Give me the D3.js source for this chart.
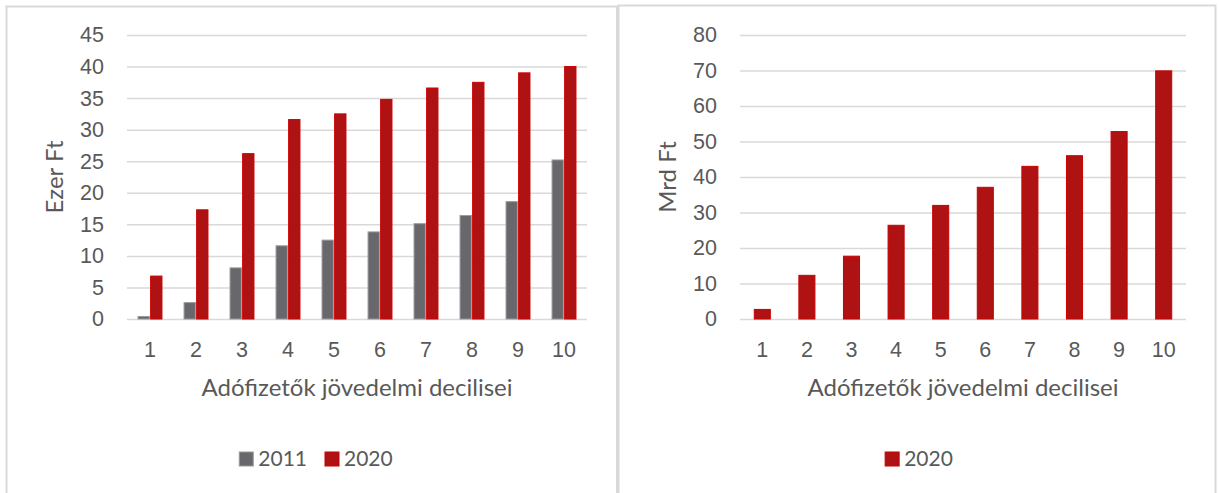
<!DOCTYPE html>
<html>
<head>
<meta charset="utf-8">
<script src="https://cdn.jsdelivr.net/npm/d3@7"></script>
<style>
  body { margin: 0; background: #fff; }
  svg { display: block; font-family: Lato, "Open Sans", sans-serif; }
</style>
</head>
<body>
<div id="chart"></div>
<script>
// decilis kategóriák
var deciles = ["1", "2", "3", "4", "5", "6", "7", "8", "9", "10"];

// bal ábra: Ezer Ft
var ezerFt2011 = [0.4, 2.6, 8.1, 11.6, 12.5, 13.8, 15.1, 16.4, 18.6, 25.2];
var ezerFt2020 = [6.8, 17.3, 26.2, 31.6, 32.5, 34.8, 36.6, 37.5, 39.0, 40.0];
var leftTicks = [0, 5, 10, 15, 20, 25, 30, 35, 40, 45];

// jobb ábra: Mrd Ft
var mrdFt2020 = [2.7, 12.3, 17.7, 26.4, 32.0, 37.1, 43.0, 46.0, 52.8, 69.9];
var rightTicks = [0, 10, 20, 30, 40, 50, 60, 70, 80];

var xTitle = "Adófizetők jövedelmi decilisei";

var colors = {"2011": "#68676c", "2020": "#af1212"};
var strokes = {"2011": "#9a9a9e", "2020": "#cc0000"};
var textColor = "#595959";
var gridColor = "#d9d9d9";

var svg = d3.select("#chart")
            .append("svg")
            .attr("width", 1219)
            .attr("height", 493);

// panel keretek
svg.append("rect")
    .attr("x", 6.5).attr("y", 6.5)
    .attr("width", 611).attr("height", 520)
    .attr("fill", "none")
    .attr("stroke", gridColor)
    .attr("stroke-width", 2);
svg.append("rect")
    .attr("x", 618.5).attr("y", 5.5)
    .attr("width", 597).attr("height", 520)
    .attr("fill", "none")
    .attr("stroke", gridColor)
    .attr("stroke-width", 2);
svg.append("line")
    .attr("x1", 617.5).attr("x2", 617.5)
    .attr("y1", 6).attr("y2", 493)
    .attr("stroke", gridColor)
    .attr("stroke-width", 3);

function drawChart(opts) {
    var g = svg.append("g");

    var y = d3.scaleLinear()
              .domain([0, d3.max(opts.ticks)])
              .range([319, opts.top]);

    var x = d3.scaleBand()
              .domain(deciles)
              .range([opts.left, opts.right])
              .paddingInner(opts.pad)
              .paddingOuter(opts.pad / 2);

    var xs = d3.scaleBand()
               .domain(opts.series.map(s => s.key))
               .range([0, x.bandwidth()])
               .paddingInner(opts.series.length > 1 ? 0.1 : 0);

    // rácsvonalak + y tengely feliratok
    var yAxis = g.append("g")
        .attr("transform", "translate(" + opts.left + ",0)")
        .call(d3.axisLeft(y)
                .tickValues(opts.ticks)
                .tickSize(-(opts.right - opts.left))
                .tickPadding(23));
    yAxis.select(".domain").remove();
    yAxis.selectAll("line")
        .attr("stroke", gridColor)
        .attr("stroke-width", 1.5);
    yAxis.selectAll("text")
        .attr("fill", textColor)
        .style("font-size", "21.5px");

    // oszlopok
    var rows = deciles.map((d, i) => {
        var r = {decile: d};
        opts.series.forEach(s => { r[s.key] = s.values[i]; });
        return r;
    });

    g.append("g")
        .selectAll("g")
        .data(rows)
        .join("g")
        .attr("transform", d => "translate(" + x(d.decile) + ",0)")
        .selectAll("rect")
        .data(d => opts.series.map(s => ({key: s.key, value: d[s.key]})))
        .join("rect")
        .attr("x", d => xs(d.key))
        .attr("y", d => y(d.value))
        .attr("width", xs.bandwidth())
        .attr("height", d => y(0) - y(d.value))
        .attr("fill", d => colors[d.key])
        .attr("stroke", d => strokes[d.key])
        .attr("stroke-width", 1);

    // x tengely
    var xAxis = g.append("g")
        .attr("transform", "translate(0,319)")
        .call(d3.axisBottom(x).tickSize(0).tickPadding(23));
    xAxis.select(".domain").remove();
    xAxis.selectAll("text")
        .attr("fill", textColor)
        .style("font-size", "21.5px");

    // tengelycímek
    g.append("text")
        .attr("x", (opts.left + opts.right) / 2)
        .attr("y", 396)
        .attr("text-anchor", "middle")
        .attr("fill", textColor)
        .style("font-size", "24px")
        .text(xTitle);

    g.append("text")
        .attr("transform", "translate(" + opts.yTitleX + ",177) rotate(-90)")
        .attr("text-anchor", "middle")
        .attr("dominant-baseline", "middle")
        .attr("fill", textColor)
        .style("font-size", "24px")
        .text(opts.yTitle);

    // jelmagyarázat
    var size = 14;
    var legend = g.append("g");
    var items = legend.selectAll("g")
        .data(opts.series)
        .join("g");
    items.append("rect")
        .attr("y", 452)
        .attr("width", size)
        .attr("height", size)
        .attr("fill", d => colors[d.key])
        .attr("stroke", d => strokes[d.key]);
    items.append("text")
        .attr("x", size + 5)
        .attr("y", 466)
        .attr("fill", textColor)
        .style("font-size", "21px")
        .text(d => d.key);

    var xpos = 0;
    items.each(function() {
        d3.select(this).attr("transform", "translate(" + xpos + ",0)");
        xpos += this.getBBox().width + 18;
    });
    var total = xpos - 18;
    legend.attr("transform", "translate(" + (opts.legendCenter - total / 2) + ",0)");
}

drawChart({
    left: 127, right: 587, top: 35, pad: 0.48,
    ticks: leftTicks,
    series: [{key: "2011", values: ezerFt2011}, {key: "2020", values: ezerFt2020}],
    yTitle: "Ezer Ft", yTitleX: 57,
    legendCenter: 316
});

drawChart({
    left: 740, right: 1186, top: 35, pad: 0.64,
    ticks: rightTicks,
    series: [{key: "2020", values: mrdFt2020}],
    yTitle: "Mrd Ft", yTitleX: 670,
    legendCenter: 919
});
</script>
</body>
</html>
